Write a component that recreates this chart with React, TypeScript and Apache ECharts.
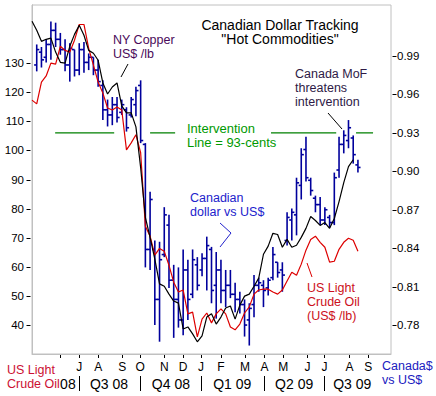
import React, { useEffect, useRef } from "react";
import * as echarts from "echarts";

// weekly data, week index 0 = first week shown (late April 2008)
const copper = [144.4,141.3,137.5,138.2,138.6,133.8,130.3,130.0,135.8,139.9,143.0,139.6,134.4,133.4,131.0,123.2,119.4,121.8,123.2,115.3,112.9,112.9,108.1,94.1,77.0,70.1,62.6,54.1,53.3,50.6,48.2,47.5,38.6,39.3,36.9,34.2,36.2,42.7,43.8,40.3,42.7,45.8,46.5,42.0,46.8,49.9,50.6,53.3,56.1,64.3,67.1,71.5,71.1,66.7,69.4,66.7,67.4,70.1,73.2,77.3,75.9,74.2,75.2,73.2,76.6,82.4,88.9,94.4,96.8];
const crudeOil = [117.3,116.0,123.5,125.6,130.0,129.7,135.8,134.4,133.8,137.9,143.3,143.3,135.1,129.3,123.5,119.7,114.6,113.9,114.9,113.9,100.2,102.6,105.4,99.2,73.9,70.5,64.0,66.3,65.3,60.5,54.7,51.3,52.0,43.8,44.4,35.9,42.0,44.1,40.7,43.8,45.5,43.8,39.3,38.3,40.3,44.1,46.2,50.6,52.0,52.3,52.3,51.3,50.6,52.0,55.1,58.1,57.1,60.9,65.7,69.4,70.5,68.4,66.7,61.6,61.9,66.0,68.4,69.8,69.1,65.3];

// Canadian dollar weekly bars, starting at week 1
const cadFirstWeek = 1;
const cadOpen = [0.983,0.993,0.989,0.999,1.010,1.003,0.995,0.983,0.995,0.979,0.995,0.985,0.989,0.979,0.967,0.948,0.944,0.952,0.946,0.948,0.944,0.952,0.967,0.921,0.839,0.839,0.800,0.835,0.858,0.815,0.800,0.784,0.823,0.804,0.827,0.823,0.832,0.839,0.811,0.823,0.807,0.811,0.804,0.800,0.796,0.784,0.796,0.811,0.811,0.809,0.817,0.829,0.823,0.846,0.862,0.866,0.889,0.917,0.893,0.879,0.874,0.862,0.864,0.860,0.901,0.921,0.924,0.926,0.905];
const cadClose = [0.995,0.987,0.999,1.010,1.003,0.995,0.983,0.996,0.979,0.995,0.985,0.989,0.979,0.970,0.948,0.944,0.952,0.942,0.952,0.934,0.956,0.963,0.924,0.839,0.878,0.800,0.831,0.866,0.815,0.800,0.784,0.823,0.800,0.831,0.811,0.832,0.842,0.807,0.823,0.807,0.811,0.804,0.800,0.796,0.780,0.793,0.811,0.813,0.807,0.815,0.835,0.821,0.819,0.864,0.868,0.891,0.913,0.895,0.885,0.874,0.862,0.870,0.860,0.895,0.921,0.928,0.934,0.913,0.903];
const cadLow = [0.978,0.981,0.985,0.987,0.997,0.991,0.978,0.970,0.974,0.975,0.977,0.979,0.975,0.966,0.940,0.935,0.936,0.938,0.944,0.931,0.942,0.943,0.922,0.825,0.823,0.780,0.767,0.833,0.809,0.770,0.778,0.772,0.784,0.801,0.807,0.818,0.807,0.797,0.785,0.797,0.794,0.801,0.790,0.789,0.771,0.764,0.786,0.806,0.794,0.803,0.815,0.817,0.806,0.842,0.846,0.850,0.878,0.892,0.881,0.868,0.858,0.858,0.856,0.858,0.895,0.914,0.918,0.906,0.899];
const cadHigh = [0.999,0.997,1.003,1.017,1.016,1.008,1.003,1.000,0.995,1.000,1.001,0.992,0.989,0.987,0.971,0.956,0.958,0.958,0.956,0.950,0.958,0.966,0.971,0.922,0.884,0.846,0.845,0.872,0.866,0.827,0.825,0.839,0.831,0.839,0.833,0.836,0.849,0.841,0.837,0.831,0.823,0.823,0.813,0.806,0.800,0.797,0.819,0.817,0.815,0.817,0.841,0.829,0.829,0.868,0.871,0.895,0.918,0.927,0.895,0.881,0.880,0.872,0.866,0.899,0.927,0.932,0.940,0.928,0.909];

// axes
const weekMin = 0;
const weekMax = 76;
const monthWeeks = [5.9, 10.0, 14.0, 19.1, 22.9, 28.0, 32.0, 35.8, 40.0, 45.1, 49.2, 53.2, 58.3, 61.9, 67.2, 71.2];
const monthLabels = ["", "J", "A", "S", "O", "N", "D", "J", "F", "M", "A", "M", "J", "J", "A", "S"];
const quarterSepWeeks = [10.0, 22.9, 35.8, 49.2, 61.9];
const quarterCenterWeeks = [7.6, 16.3, 29.4, 42.4, 55.5, 67.8];
const quarterLabels = ["08", "Q3 08", "Q4 08", "Q1 09", "Q2 09", "Q3 09"];
const leftTicks = [40, 50, 60, 70, 80, 90, 100, 110, 120, 130];
const rightTicks = [0.78, 0.81, 0.84, 0.87, 0.9, 0.93, 0.96, 0.99];

// intervention level (right axis) and its drawn segments (weeks)
const interventionLevel = 0.93;
const interventionSegments = [[4.9, 17.4], [25.0, 30.3], [50.6, 64.4], [68.6, 72.2]];

const FONT = "Liberation Sans, Arial, sans-serif";
const BAR_COLOR = "#00009c";
const BORDER = "#c0c0c0";

function lookup(vals: number[], labels: string[], v: number) {
  for (let i = 0; i < vals.length; i++) if (Math.abs(vals[i] - v) < 1e-6) return labels[i];
  return "";
}

function txt(text: string, x: number, yTop: number, fill: string, size = 12.5, lh = 14, extra: any = {}) {
  return {
    type: "text",
    x,
    y: yTop,
    z: 100,
    style: { text, fill, font: `${size}px ${FONT}`, lineHeight: lh, verticalAlign: "top", align: "left", ...extra },
  };
}

function ln(x1: number, y1: number, x2: number, y2: number, stroke: string) {
  return { type: "line", z: 100, shape: { x1, y1, x2, y2 }, style: { stroke, lineWidth: 1 } };
}

const annotations: any[] = [
  txt('Canadian Dollar Tracking\n"Hot Commodities"', 280, 17.5, "#000", 14, 14.5, { align: "center" }),
  txt("NY Copper\nUS$ /lb", 113, 33, "#4a0a5a"),
  ln(128, 64, 121, 77, "#000"),
  txt("Canada MoF\nthreatens\nintervention", 295, 66.5, "#2e1a46"),
  ln(328, 113, 342, 129, "#000"),
  txt("Intervention\nLine = 93-cents", 187, 121, "#009900", 13, 14),
  txt("Canadian\ndollar vs US$", 190, 191, "#2222cc"),
  { type: "polyline", z: 100, shape: { points: [[220, 223], [231, 233], [220, 247]] }, style: { stroke: "#2222cc", fill: "none", lineWidth: 1 } },
  txt("US Light\nCrude Oil\n(US$ /lb)", 307, 281, "#cc1020"),
  ln(307, 263, 312, 277, "#dd0000"),
  txt("US Light\nCrude Oil", 7, 363, "#cc1033"),
  txt("Canada$\nvs US$", 382, 359, "#2020c0"),
];

export default function App() {
  const ref = useRef<HTMLDivElement>(null);
  useEffect(() => {
    const chart = echarts.init(ref.current!, null, { renderer: "svg" });
    const cadData = cadOpen.map((o, i) => [i + cadFirstWeek, o, cadClose[i], cadLow[i], cadHigh[i]]);
    const greenData: any[] = [];
    interventionSegments.forEach((s, k) => {
      if (k > 0) greenData.push([s[0] - 0.05, "-"]);
      greenData.push([s[0], interventionLevel]);
      greenData.push([s[1], interventionLevel]);
    });
    const option: any = {
      animation: false,
      textStyle: { fontFamily: FONT },
      grid: { left: 32, top: 5, right: 45, bottom: 42, show: true, borderColor: BORDER, borderWidth: 1, backgroundColor: "transparent" },
      xAxis: [
        {
          type: "value", min: weekMin, max: weekMax, position: "bottom",
          axisLine: { show: true, lineStyle: { color: BORDER } }, splitLine: { show: false },
          axisTick: { show: false },
          axisLabel: { customValues: monthWeeks, formatter: (v: number) => lookup(monthWeeks, monthLabels, v), color: "#000", fontSize: 12, margin: 7, fontFamily: FONT },
        },
        {
          type: "value", min: weekMin, max: weekMax, position: "bottom", offset: 22,
          axisLine: { show: false }, splitLine: { show: false },
          axisTick: { show: false },
          axisLabel: { customValues: quarterCenterWeeks, formatter: (v: number) => lookup(quarterCenterWeeks, quarterLabels, v), color: "#000", fontSize: 14, margin: 1, fontFamily: FONT },
        },
      ],
      yAxis: [
        {
          type: "value", min: 30, max: 150, position: "left",
          axisLine: { show: true, lineStyle: { color: BORDER } }, splitLine: { show: false },
          axisTick: { show: false },
          axisLabel: { customValues: leftTicks, color: "#000", fontSize: 11.5, margin: 8, fontFamily: FONT },
        },
        {
          type: "value", min: 0.7574, max: 1.0298, position: "right",
          axisLine: { show: true, lineStyle: { color: BORDER } }, splitLine: { show: false },
          axisTick: { show: false },
          axisLabel: { customValues: rightTicks, formatter: (v: number) => v.toFixed(2), color: "#000", fontSize: 11.5, margin: 6, fontFamily: FONT },
        },
      ],
      series: [
        {
          type: "custom",
          name: "Canadian dollar",
          xAxisIndex: 0,
          yAxisIndex: 1,
          encode: { x: 0, y: [1, 2, 3, 4] },
          data: cadData,
          clip: true,
          renderItem: (params: any, api: any) => {
            const w = api.value(0);
            const o = api.coord([w, api.value(1)]);
            const c = api.coord([w, api.value(2)]);
            const lo = api.coord([w, api.value(3)]);
            const hi = api.coord([w, api.value(4)]);
            const st = { stroke: BAR_COLOR, lineWidth: 1.6 };
            return {
              type: "group",
              children: [
                { type: "line", shape: { x1: hi[0], y1: hi[1], x2: lo[0], y2: lo[1] }, style: st },
                { type: "line", shape: { x1: o[0] - 2.6, y1: o[1], x2: o[0], y2: o[1] }, style: st },
                { type: "line", shape: { x1: c[0], y1: c[1], x2: c[0] + 2.6, y2: c[1] }, style: st },
              ],
            };
          },
        },
        {
          type: "line", name: "Crude oil", xAxisIndex: 0, yAxisIndex: 0,
          data: crudeOil.map((v, i) => [i, v]),
          symbol: "none", showSymbol: false,
          lineStyle: { color: "#dd0000", width: 1.2 },
        },
        {
          type: "line", name: "Copper", xAxisIndex: 0, yAxisIndex: 0,
          data: copper.map((v, i) => [i, v]),
          symbol: "none", showSymbol: false,
          lineStyle: { color: "#000", width: 1.2 },
        },
        {
          type: "line", name: "Intervention", xAxisIndex: 0, yAxisIndex: 1,
          data: greenData, connectNulls: false,
          symbol: "none", showSymbol: false,
          lineStyle: { color: "#008000", width: 1.3 },
        },
      ],
      graphic: annotations,
    };
    chart.setOption(option);

    // axis tick marks placed through the chart's own scales
    const ticks: any[] = [];
    leftTicks.forEach((v) => {
      const y = Math.round(chart.convertToPixel({ yAxisIndex: 0 }, v) as number) + 0.5;
      ticks.push(ln(26.5, y, 30.5, y, "#000"));
    });
    rightTicks.forEach((v) => {
      const y = Math.round(chart.convertToPixel({ yAxisIndex: 1 }, v) as number) + 0.5;
      ticks.push(ln(392.5, y, 396.5, y, "#000"));
    });
    monthWeeks.forEach((w) => {
      const x = Math.round(chart.convertToPixel({ xAxisIndex: 0 }, w) as number) + 0.5;
      ticks.push(ln(x, 355, x, 358, "#000"));
    });
    quarterSepWeeks.forEach((w) => {
      const x = Math.round(chart.convertToPixel({ xAxisIndex: 0 }, w) as number) + 0.5;
      ticks.push(ln(x, 376, x, 391, "#000"));
    });
    chart.setOption({ graphic: [...annotations, ...ticks] });
    return () => chart.dispose();
  }, []);
  return <div ref={ref} style={{ position: "absolute", left: 0, top: 0, width: 436, height: 396, background: "#fff" }} />;
}
